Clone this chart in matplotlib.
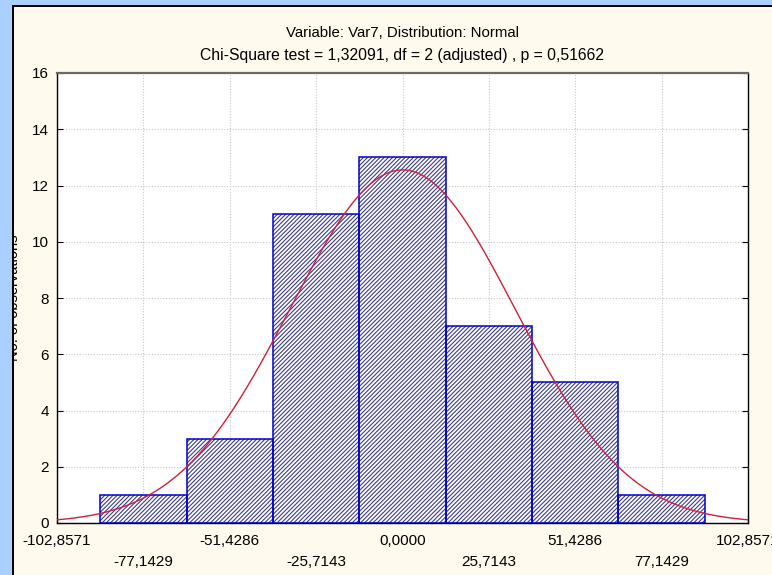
import numpy as np
import matplotlib
matplotlib.use('Agg')
from matplotlib import pyplot as plt
from matplotlib.patches import Rectangle

plt.rcParams['font.family'] = ['Liberation Sans', 'DejaVu Sans']
plt.rcParams['hatch.linewidth'] = 0.8

# Histogram of Var7: 7 classes of width 25.7143 centred on the tick values
bin_centers = [-77.1429, -51.4286, -25.7143, 0.0, 25.7143, 51.4286, 77.1429]
counts = [1, 3, 11, 13, 7, 5, 1]
bin_width = 25.7143

# Fitted normal curve (expected counts)
fit_mean = 0.0
fit_sd = 33.5
n_obs = sum(counts)

row1_ticks = [-102.8571, -51.4286, 0.0, 51.4286, 102.8571]
row1_labels = ['-102,8571', '-51,4286', '0,0000', '51,4286', '102,8571']
row2_ticks = [-77.1429, -25.7143, 25.7143, 77.1429]
row2_labels = ['-77,1429', '-25,7143', '25,7143', '77,1429']
y_ticks = [0, 2, 4, 6, 8, 10, 12, 14, 16]

title1 = 'Variable: Var7, Distribution: Normal'
title2 = 'Chi-Square test = 1,32091, df = 2 (adjusted) , p = 0,51662'
ylabel = 'No. of observations'

W, H = 772, 575
fig = plt.figure(figsize=(W / 100, H / 100), dpi=100)
fig.patch.set_facecolor('#fffaee')

left, right, top, bottom = 57, 748, 73, 523
ax = fig.add_axes([left / W, 1 - bottom / H, (right - left) / W, (bottom - top) / H])
ax.set_facecolor('white')

# hatched fill, then the blue outline on top
ax.bar(bin_centers, counts, width=bin_width, color='white', edgecolor='#3c3c8c',
       hatch='////////', linewidth=0, zorder=2)
ax.bar(bin_centers, counts, width=bin_width, fill=False, edgecolor='#0000d0',
       linewidth=1.1, zorder=3)

xs = np.linspace(-102.8571, 102.8571, 400)
ys = n_obs * bin_width / (fit_sd * np.sqrt(2 * np.pi)) * np.exp(-0.5 * ((xs - fit_mean) / fit_sd) ** 2)
ax.plot(xs, ys, color='#d0203a', lw=1.0, zorder=4)

ax.set_xlim(-102.8571, 102.8571)
ax.set_ylim(0, 16)

ax.set_xticks(row1_ticks)
ax.set_xticklabels(row1_labels)
ax.set_xticks(row2_ticks, minor=True)
ax.set_xticklabels(row2_labels, minor=True)
ax.set_yticks(y_ticks)

ax.tick_params(axis='x', which='major', direction='in', length=4, pad=8, labelsize=11)
ax.tick_params(axis='x', which='minor', direction='in', length=4, pad=23, labelsize=11)
ax.tick_params(axis='y', which='major', direction='in', length=4, pad=6, labelsize=11,
               right=True)

ax.grid(True, which='both', axis='x', color='#c8c8c8', linestyle=(0, (1, 1.5)), lw=0.8, zorder=0)
ax.grid(True, which='major', axis='y', color='#c8c8c8', linestyle=(0, (1, 1.5)), lw=0.8, zorder=0)
ax.set_axisbelow(True)

for side in ['left', 'bottom', 'right']:
    ax.spines[side].set_color('black')
    ax.spines[side].set_linewidth(1.0)
ax.spines['top'].set_color('#6a6a6a')
ax.spines['top'].set_linewidth(1.6)

cx = (left + right) / 2 / W
fig.text(cx, 1 - 37 / H, title1, ha='center', va='baseline', fontsize=10.8)
fig.text(cx, 1 - 60 / H, title2, ha='center', va='baseline', fontsize=11.3)

# y label sits partly under the window frame
fig.text(14 / W, 1 - 298 / H, ylabel, rotation=90, ha='center', va='center', fontsize=10.5)

# window frame: light blue band and black edge on the left and top
frame = [
    Rectangle((0, 0), 12 / W, 1, color='#aad0ff'),
    Rectangle((0, 1 - 5 / H), 1, 5 / H, color='#aad0ff'),
    Rectangle((12 / W, 0), 2 / W, 1 - 5 / H, color='black'),
    Rectangle((12 / W, 1 - 7 / H), 1 - 12 / W, 2 / H, color='black'),
]
for p in frame:
    p.set_transform(fig.transFigure)
    p.set_zorder(10)
    p.set_linewidth(0)
    fig.patches.append(p)

fig.savefig('out.png', dpi=100, facecolor=fig.get_facecolor())
